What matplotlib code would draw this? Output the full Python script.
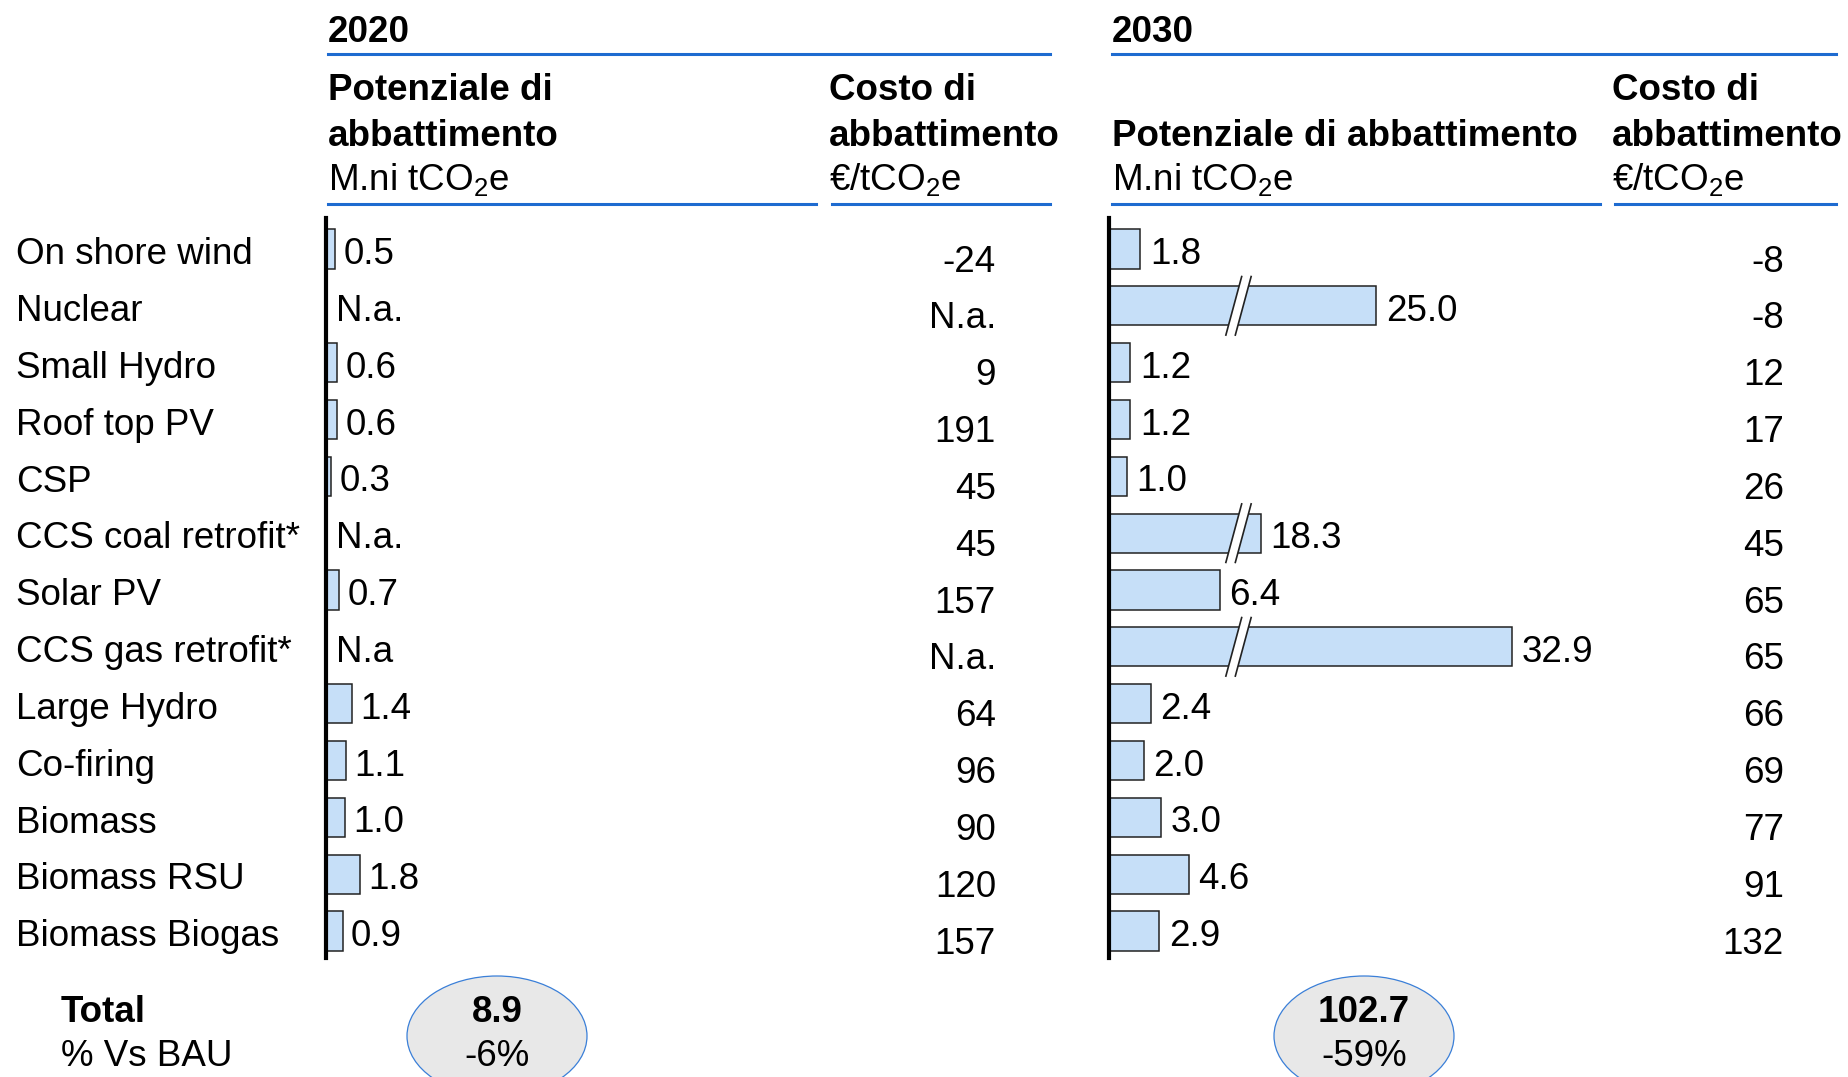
import numpy as np
import matplotlib
matplotlib.use("Agg")
import matplotlib.pyplot as plt
from matplotlib.lines import Line2D
from matplotlib.patches import Ellipse, Polygon
from matplotlib.transforms import blended_transform_factory

plt.rcParams['font.family'] = ['Liberation Sans', 'DejaVu Sans']
plt.rcParams['mathtext.default'] = 'regular'

categories = ["On shore wind", "Nuclear", "Small Hydro", "Roof top PV", "CSP",
              "CCS coal retrofit*", "Solar PV", "CCS gas retrofit*", "Large Hydro",
              "Co-firing", "Biomass", "Biomass RSU", "Biomass Biogas"]
pot_2020 = [0.5, None, 0.6, 0.6, 0.3, None, 0.7, None, 1.4, 1.1, 1.0, 1.8, 0.9]
na_2020 = ["", "N.a.", "", "", "", "N.a.", "", "N.a", "", "", "", "", ""]
cost_2020 = ["-24", "N.a.", "9", "191", "45", "45", "157", "N.a.", "64", "96", "90", "120", "157"]
pot_2030 = [1.8, 25.0, 1.2, 1.2, 1.0, 18.3, 6.4, 32.9, 2.4, 2.0, 3.0, 4.6, 2.9]
cost_2030 = [-8, -8, 12, 17, 26, 45, 65, 65, 66, 69, 77, 91, 132]
totals = ["8.9", "102.7"]
vs_bau = ["-6%", "-59%"]

W, H = 1849, 1077
FS = 26.5
BAR_C = "#c6dff8"
BLUE = "#1e6bd0"

fig = plt.figure(figsize=(W / 100, H / 100), dpi=100)


def fx(x):
    return x / W


def fy(y):
    return 1 - y / H


def hline(x0, x1, y):
    fig.add_artist(Line2D([fx(x0), fx(x1)], [fy(y), fy(y)], color=BLUE, lw=2.2,
                          transform=fig.transFigure))


def label(x, y, s, **kw):
    # y in pixels from top; small shift so text sits like the reference
    fig.text(fx(x), fy(y + 5), s, fontsize=FS, va="center", **kw)


def make_ax(x0, width_px, px_per_unit):
    ax = fig.add_axes([fx(x0), fy(958), width_px / W, (958 - 218) / H])
    ax.set_xlim(0, width_px / px_per_unit)
    ax.set_ylim(12.475, -0.545)
    for s in ["top", "right", "bottom"]:
        ax.spines[s].set_visible(False)
    ax.spines["left"].set_linewidth(3)
    ax.set_xticks([])
    ax.set_yticks([])
    ax.patch.set_alpha(0)
    return ax


BH = 0.69

# ---- 2020 ----
ax1 = make_ax(325.5, 500, 19)
for i, v in enumerate(pot_2020):
    if v is None:
        ax1.annotate(na_2020[i], (0, i), xytext=(7.5, -4), textcoords="offset points",
                     va="center", fontsize=FS)
        continue
    ax1.barh(i, v, height=BH, color=BAR_C, edgecolor="#222222", lw=1.1)
    ax1.annotate(f"{v:.1f}", (v, i), xytext=(6, -4), textcoords="offset points",
                 va="center", fontsize=FS)

tr1 = blended_transform_factory(fig.transFigure, ax1.transData)
for i, c in enumerate(categories):
    fig.text(fx(16), i + 0.1, c, transform=tr1, va="center", fontsize=FS)
for i, c in enumerate(cost_2020):
    fig.text(fx(996), i + 0.23, c, transform=tr1, va="center", ha="right", fontsize=FS)

# ---- 2030 (bars above 10 are drawn with a break) ----
BREAK_AT, GAP = 7.5, 9.5
ax2 = make_ax(1109.5, 700, 17.2)
for i, v in enumerate(pot_2030):
    d = v - GAP if v > 10 else v
    ax2.barh(i, d, height=BH, color=BAR_C, edgecolor="#222222", lw=1.1)
    ax2.annotate(f"{v:.1f}", (d, i), xytext=(7, -4), textcoords="offset points",
                 va="center", fontsize=FS)
    if v > 10:
        h = BH / 2 + 0.17
        s, g = 0.92, 0.55
        pts = [(BREAK_AT - g / 2 - s / 2, i + h), (BREAK_AT + g / 2 - s / 2, i + h),
               (BREAK_AT + g / 2 + s / 2, i - h), (BREAK_AT - g / 2 + s / 2, i - h)]
        ax2.add_patch(Polygon(pts, closed=True, facecolor="white", edgecolor="none",
                              zorder=3, clip_on=False))
        for a, b in [(pts[0], pts[3]), (pts[1], pts[2])]:
            ax2.plot([a[0], b[0]], [a[1], b[1]], color="#222222", lw=1.2, zorder=4,
                     clip_on=False)

tr2 = blended_transform_factory(fig.transFigure, ax2.transData)
for i, c in enumerate(cost_2030):
    fig.text(fx(1784), i + 0.23, str(c), transform=tr2, va="center", ha="right", fontsize=FS)

# ---- headers ----
label(328, 27, "2020", weight="bold")
label(1112, 27, "2030", weight="bold")
hline(328, 1050, 54)
hline(1112, 1836, 54)

unit_pot = r"M.ni tCO$_2$e"
unit_cost = r"€/tCO$_2$e"
label(328, 86, "Potenziale di", weight="bold")
label(328, 131, "abbattimento", weight="bold")
label(328, 174, unit_pot)
label(829, 86, "Costo di", weight="bold")
label(829, 131, "abbattimento", weight="bold")
label(829, 174, unit_cost)
hline(328, 816, 204)
hline(832, 1050, 204)

label(1112, 131, "Potenziale di abbattimento", weight="bold")
label(1112, 174, unit_pot)
label(1612, 86, "Costo di", weight="bold")
label(1612, 131, "abbattimento", weight="bold")
label(1612, 174, unit_cost)
hline(1112, 1600, 204)
hline(1615, 1836, 204)

# ---- totals ----
label(61, 1008, "Total", weight="bold")
label(61, 1052, "% Vs BAU")
for cx, t, p in zip([497, 1364], totals, vs_bau):
    fig.add_artist(Ellipse((fx(cx), fy(1036)), 180 / W, 120 / H, transform=fig.transFigure,
                           facecolor="#e8e8e8", edgecolor="#3a7fd8", lw=0.9))
    label(cx, 1008, t, weight="bold", ha="center")
    label(cx, 1052, p, ha="center")

fig.savefig("out.png", dpi=100)
